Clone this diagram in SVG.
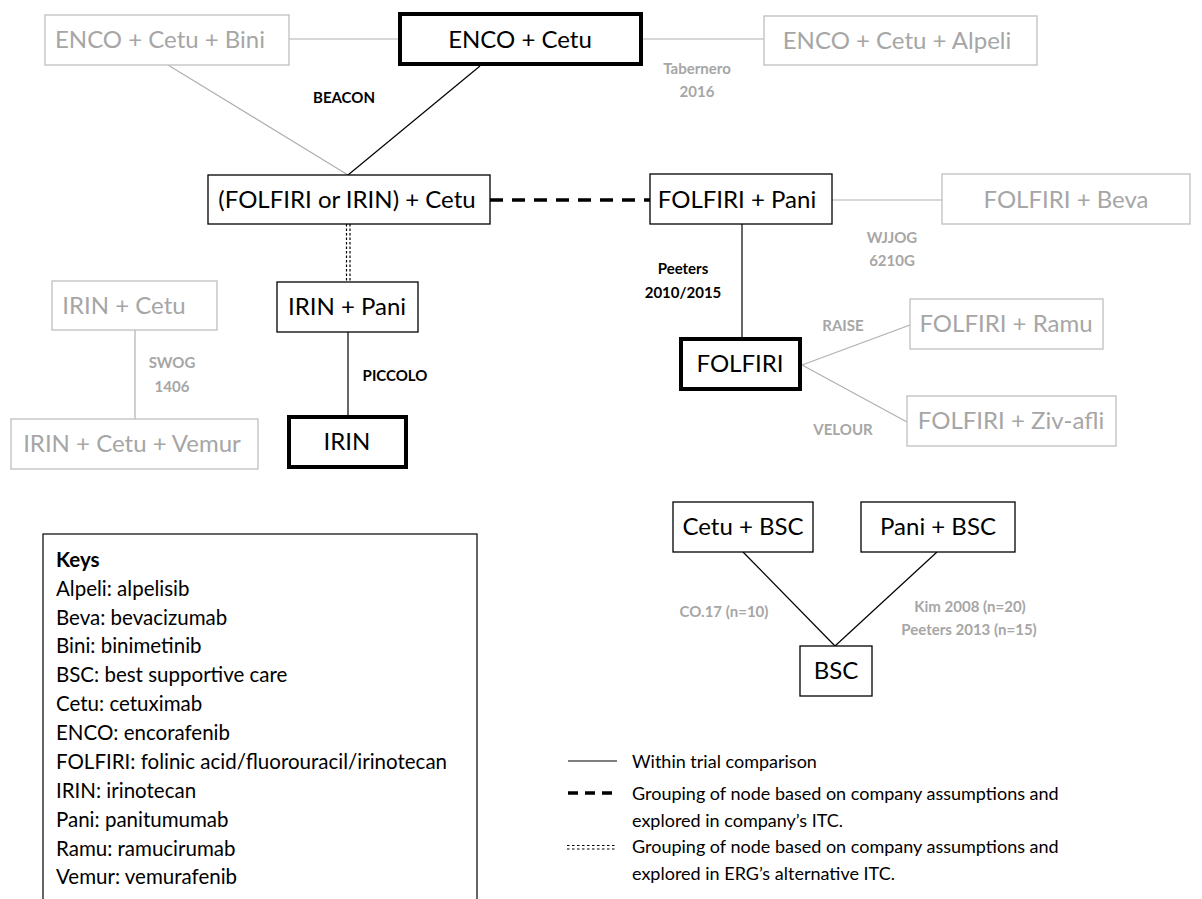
<svg xmlns="http://www.w3.org/2000/svg" width="1202" height="899" viewBox="0 0 1202 899">
<style>
text{font-family:Lato,"Liberation Sans",sans-serif}
.n{fill:#fff;stroke:#000;stroke-width:1.3}
.nb{fill:#fff;stroke:#000;stroke-width:4}
.ng{fill:#fff;stroke:#bfbfbf;stroke-width:1.3}
.t{font-size:24px;fill:#000;text-anchor:middle}
.tg{font-size:24px;fill:#a6a6a6;text-anchor:middle}
.l{font-size:15px;font-weight:bold;fill:#000;text-anchor:middle}
.lg{font-size:15px;font-weight:bold;fill:#a6a6a6;text-anchor:middle}
.c{stroke:#000;stroke-width:1.2;fill:none}
.cg{stroke:#b0b0b0;stroke-width:1.2;fill:none}
.k{font-size:20.5px;fill:#000}
.g{font-size:18px;fill:#000}
</style>
<g id="connectors">
<line class="cg" x1="289" y1="39" x2="400" y2="39"/>
<line class="cg" x1="641" y1="39" x2="764" y2="39"/>
<line class="cg" x1="168" y1="65" x2="348" y2="175"/>
<line class="c" x1="480" y1="66" x2="348" y2="175"/>
<line x1="490" y1="200" x2="650" y2="200" stroke="#000" stroke-width="3.5" stroke-dasharray="13,9"/>
<line class="cg" x1="832" y1="200" x2="942" y2="200"/>
<line x1="346.5" y1="224" x2="346.5" y2="282" stroke="#000" stroke-width="1.2" stroke-dasharray="2.5,2"/>
<line x1="350" y1="224" x2="350" y2="282" stroke="#000" stroke-width="1.2" stroke-dasharray="2.5,2"/>
<line class="c" x1="348" y1="332" x2="348" y2="415"/>
<line class="cg" x1="135" y1="330" x2="135" y2="419"/>
<line class="c" x1="742" y1="224" x2="742" y2="337"/>
<line class="cg" x1="802" y1="365" x2="910" y2="325"/>
<line class="cg" x1="802" y1="365" x2="907" y2="422"/>
<line class="c" x1="743" y1="552" x2="835" y2="646"/>
<line class="c" x1="937" y1="552" x2="835" y2="646"/>
</g>
<g id="edge-labels">
<text class="l" x="344" y="103">BEACON</text>
<text class="lg" x="697" y="74">Tabernero</text>
<text class="lg" x="697" y="97">2016</text>
<text class="lg" x="892" y="243">WJJOG</text>
<text class="lg" x="892" y="266">6210G</text>
<text class="l" x="683" y="274">Peeters</text>
<text class="l" x="683" y="298">2010/2015</text>
<text class="lg" x="172" y="368">SWOG</text>
<text class="lg" x="172" y="392">1406</text>
<text class="l" x="395" y="381">PICCOLO</text>
<text class="lg" x="843" y="331">RAISE</text>
<text class="lg" x="843" y="435">VELOUR</text>
<text class="lg" x="724" y="617">CO.17 (n=10)</text>
<text class="lg" x="970" y="612">Kim 2008  (n=20)</text>
<text class="lg" x="969" y="635">Peeters 2013 (n=15)</text>
</g>
<g id="n-enco-cetu-bini"><rect class="ng" x="45" y="15" width="244" height="50"/><text class="tg" x="160" y="48">ENCO + Cetu + Bini</text></g>
<g id="n-enco-cetu"><rect class="nb" x="400" y="14" width="241" height="50"/><text class="t" x="520" y="48">ENCO + Cetu</text></g>
<g id="n-enco-cetu-alpeli"><rect class="ng" x="764" y="16" width="273" height="49"/><text class="tg" x="897" y="49">ENCO + Cetu + Alpeli</text></g>
<g id="n-folfiri-irin-cetu"><rect class="n" x="208" y="175" width="282" height="49"/><text class="t" x="347" y="208">(FOLFIRI or IRIN) + Cetu</text></g>
<g id="n-folfiri-pani"><rect class="n" x="650" y="174" width="182" height="50"/><text class="t" x="737" y="208">FOLFIRI + Pani</text></g>
<g id="n-folfiri-beva"><rect class="ng" x="942" y="174" width="248" height="50"/><text class="tg" x="1066" y="208">FOLFIRI + Beva</text></g>
<g id="n-irin-cetu"><rect class="ng" x="52" y="281" width="165" height="49"/><text class="tg" x="124" y="314">IRIN + Cetu</text></g>
<g id="n-irin-cetu-vemur"><rect class="ng" x="11" y="419" width="247" height="50"/><text class="tg" x="132" y="452">IRIN + Cetu + Vemur</text></g>
<g id="n-irin-pani"><rect class="n" x="277" y="282" width="141" height="50"/><text class="t" x="347" y="315">IRIN + Pani</text></g>
<g id="n-irin"><rect class="nb" x="289" y="417" width="117" height="50"/><text class="t" x="347" y="450">IRIN</text></g>
<g id="n-folfiri"><rect class="nb" x="681" y="339" width="119" height="50"/><text class="t" x="740" y="372">FOLFIRI</text></g>
<g id="n-folfiri-ramu"><rect class="ng" x="910" y="299" width="193" height="50"/><text class="tg" x="1006" y="332">FOLFIRI + Ramu</text></g>
<g id="n-folfiri-ziv"><rect class="ng" x="907" y="396" width="209" height="50"/><text class="tg" x="1011" y="429">FOLFIRI + Ziv-afli</text></g>
<g id="n-cetu-bsc"><rect class="n" x="673" y="502" width="140" height="50"/><text class="t" x="743" y="535">Cetu + BSC</text></g>
<g id="n-pani-bsc"><rect class="n" x="861" y="502" width="154" height="50"/><text class="t" x="938" y="535">Pani + BSC</text></g>
<g id="n-bsc"><rect class="n" x="800" y="646" width="72" height="50"/><text class="t" x="836" y="679">BSC</text></g>
<g id="keys">
<rect x="43" y="534" width="434" height="380" fill="#fff" stroke="#000" stroke-width="1.2"/>
<text class="k" x="56" y="567" font-weight="bold">Keys</text>
<text class="k" x="56" y="596">Alpeli: alpelisib</text>
<text class="k" x="56" y="625">Beva: bevacizumab</text>
<text class="k" x="56" y="653">Bini: binimetinib</text>
<text class="k" x="56" y="682">BSC: best supportive care</text>
<text class="k" x="56" y="711">Cetu: cetuximab</text>
<text class="k" x="56" y="740">ENCO: encorafenib</text>
<text class="k" x="56" y="769">FOLFIRI: folinic acid/fluorouracil/irinotecan</text>
<text class="k" x="56" y="798">IRIN: irinotecan</text>
<text class="k" x="56" y="827">Pani: panitumumab</text>
<text class="k" x="56" y="856">Ramu: ramucirumab</text>
<text class="k" x="56" y="884">Vemur: vemurafenib</text>
</g>
<g id="legend">
<line x1="568" y1="761" x2="617" y2="761" stroke="#000" stroke-width="1.2"/>
<text class="g" x="632" y="768">Within trial comparison</text>
<line x1="568" y1="793" x2="617" y2="793" stroke="#000" stroke-width="3.5" stroke-dasharray="10,7"/>
<text class="g" x="632" y="800">Grouping of node based on company assumptions and</text>
<text class="g" x="632" y="827">explored in company’s ITC.</text>
<line x1="567" y1="845.5" x2="617" y2="845.5" stroke="#000" stroke-width="1.2" stroke-dasharray="2.5,2.5"/>
<line x1="567" y1="849" x2="617" y2="849" stroke="#000" stroke-width="1.2" stroke-dasharray="2.5,2.5"/>
<text class="g" x="632" y="853">Grouping of node based on company assumptions and</text>
<text class="g" x="632" y="880">explored in ERG’s alternative ITC.</text>
</g>
</svg>
